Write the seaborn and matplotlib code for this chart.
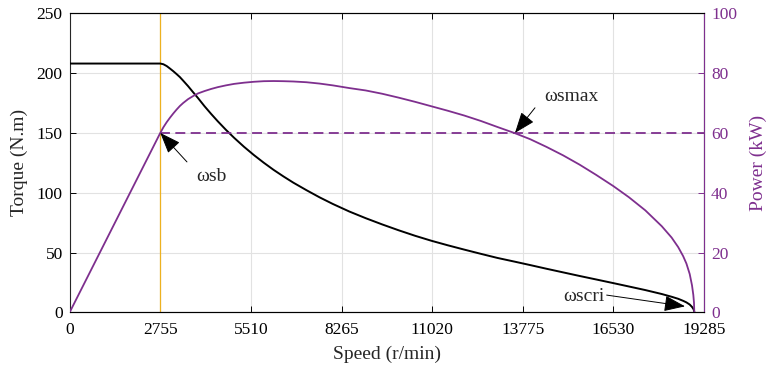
import matplotlib
matplotlib.use("Agg")
import matplotlib.pyplot as plt
import pandas as pd
import seaborn as sns

# Motor operating envelope: speed (r/min), shaft torque (N.m), output power (kW)
speed_rpm = [0, 2755, 2850, 2950, 3050, 3150, 3250, 3350, 3450, 3600, 3750,
             3900, 4100, 4300, 4500, 4750, 5000, 5300, 5600, 5900, 6200,
             6500, 6800, 7200, 7600, 8000, 8500, 9000, 9500, 10000, 10500,
             11000, 11500, 12000, 12500, 13000, 13538, 14000, 14500, 15000,
             15500, 16000, 16530, 17000, 17500, 18000, 18300, 18500, 18650,
             18750, 18850, 18920, 18960, 18980, 18990]
torque_nm = [208.0, 208.0, 207.4, 205.9, 203.8, 201.6, 199.2, 196.7, 193.7,
             189.1, 184.1, 179.2, 172.3, 165.9, 159.8, 152.6, 145.9, 138.4,
             131.5, 125.1, 119.1, 113.6, 108.4, 102.1, 96.1, 90.6, 84.3, 78.7,
             73.5, 68.6, 64.0, 59.8, 56.0, 52.4, 48.9, 45.5, 42.3, 39.5, 36.4,
             33.4, 30.4, 27.5, 24.4, 21.6, 18.6, 15.3, 13.0, 11.3, 9.6, 8.3,
             6.5, 4.5, 2.9, 1.6, 0.0]
power_kw = [0.0, 60.0, 61.9, 63.6, 65.1, 66.5, 67.8, 69.0, 70.0, 71.3, 72.3,
            73.2, 74.0, 74.7, 75.3, 75.9, 76.4, 76.8, 77.1, 77.3, 77.35, 77.3,
            77.2, 76.95, 76.5, 75.9, 75.0, 74.2, 73.1, 71.8, 70.4, 68.9, 67.4,
            65.8, 64.0, 62.0, 59.9, 57.9, 55.3, 52.5, 49.4, 46.0, 42.2, 38.5,
            34.1, 28.8, 25.0, 21.8, 18.8, 16.3, 12.8, 9.0, 5.8, 3.2, 0.0]

speed_ticks = [0, 2755, 5510, 8265, 11020, 13775, 16530, 19285]
torque_ticks = [0, 50, 100, 150, 200, 250]
power_ticks = [0, 20, 40, 60, 80, 100]

base_speed = 2755          # ωsb
rated_power = 60           # constant-power level, kW
max_speed_const_p = 13538  # ωsmax
speed_limit = 19285

purple = "#7E2F8E"
orange = "#EDB120"

df = pd.DataFrame({"speed": speed_rpm, "torque": torque_nm, "power": power_kw})
rated = pd.DataFrame({"speed": [base_speed, speed_limit],
                      "power": [rated_power, rated_power]})

sns.set_style("ticks")
plt.rcParams["font.family"] = ["Liberation Serif", "DejaVu Serif"]
plt.rcParams["axes.linewidth"] = 0.8

fig = plt.figure(figsize=(7.69, 3.73), dpi=100)
ax = fig.add_axes([0.0906, 0.1627, 0.8249, 0.8016])
ax2 = ax.twinx()

# grid on the torque axis (its ticks line up with the power ticks)
ax.set_axisbelow(True)
ax.grid(True, color="#e2e2e2", linewidth=0.8)

ax.axvline(base_speed, color=orange, linewidth=0.9, zorder=2)
sns.lineplot(data=df, x="speed", y="torque", ax=ax, color="black",
             linewidth=1.4, sort=False, zorder=3)
sns.lineplot(data=df, x="speed", y="power", ax=ax2, color=purple,
             linewidth=1.3, sort=False, zorder=3)
sns.lineplot(data=rated, x="speed", y="power", ax=ax2, color=purple,
             linewidth=1.3, linestyle=(0, (5.5, 3)), zorder=3)

ax.set_xlim(0, speed_limit)
ax.set_ylim(0, 250)
ax2.set_ylim(0, 100)
ax.set_xticks(speed_ticks)
ax.set_xticklabels([str(v) for v in speed_ticks])
ax.set_yticks(torque_ticks)
ax2.set_yticks(power_ticks)

tick_fs = 12.5
ax.tick_params(axis="both", direction="in", length=4.5, width=0.7,
               labelsize=tick_fs, colors="black", pad=5)
ax.tick_params(axis="x", top=True, pad=7)
ax.tick_params(axis="y", right=False)
ax2.tick_params(axis="y", direction="in", length=4.5, width=0.7,
                labelsize=tick_fs, colors=purple, pad=5)
ax2.spines["right"].set_color(purple)
ax2.spines["left"].set_visible(False)
for side in ["top", "bottom"]:
    ax2.spines[side].set_color("black")

label_fs = 14
ax.set_xlabel("Speed (r/min)", fontsize=label_fs, va="center")
ax.xaxis.set_label_coords(0.5, -0.139)
ax.set_ylabel("Torque (N.m)", fontsize=label_fs, va="center")
ax.yaxis.set_label_coords(-0.080, 0.5)
ax2.set_ylabel("Power (kW)", fontsize=label_fs, color=purple, va="center")
ax2.yaxis.set_label_coords(1.085, 0.5)

arrow = dict(arrowstyle="-|>,head_length=1.0,head_width=0.38",
             color="black", linewidth=0.7, mutation_scale=13,
             shrinkA=0, shrinkB=0)
note_fs = 14

# ωsb: start of constant-power region
ax2.annotate("", xy=(base_speed, rated_power), xytext=(3566, 50.3),
             arrowprops=arrow, zorder=5)
ax2.text(4317, 45.4, "ωsb", fontsize=note_fs, ha="center", va="center")

# ωsmax: end of constant-power region
ax2.annotate("", xy=(max_speed_const_p, rated_power), xytext=(14146, 68.4),
             arrowprops=arrow, zorder=5)
ax2.text(15261, 72.3, "ωsmax", fontsize=note_fs, ha="center", va="center")

# ωscri: critical speed where torque collapses
ax.annotate("", xy=(18707, 5), xytext=(16325, 14.4),
            arrowprops=arrow, zorder=5)
ax.text(15635, 13.6, "ωscri", fontsize=note_fs, ha="center", va="center")

fig.savefig("out.png", dpi=100)
